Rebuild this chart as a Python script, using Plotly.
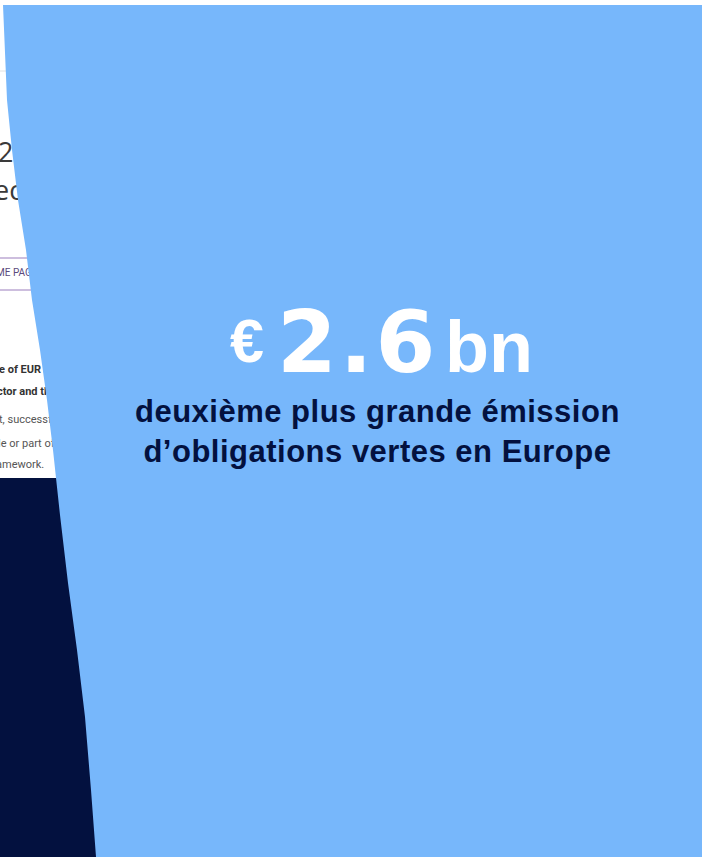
import plotly.graph_objects as go

W, H = 702, 857

# Left edge of the light-blue panel (x, y in pixels, y downward)
edge_x = [3, 7, 12, 18, 26, 32, 40, 47, 53, 60, 68, 77, 85, 91, 96]
edge_y = [5, 100, 150, 200, 250, 300, 350, 400, 450, 515, 583, 650, 717, 790, 857]

top_strip = 5        # white strip above the panel
navy_top = 478       # top of the navy block on the left

headline_pre = "€"
headline_num = "2.6"
headline_suf = "bn"
subtitle_lines = ["deuxième plus grande émission", "d’obligations vertes en Europe"]

# fragments of the web page screenshot peeking out on the left
page_big = ["2.6", "ected"]
page_big_y = [155, 193]
page_btn = "ME PAGE"
page_bold = ["e of EUR 2.6", "ctor and the"]
page_bold_y = [370, 392]
page_reg = ["t, successful", "le or part of", "amework."]
page_reg_y = [420, 444, 465]

BLUE = "#77B7FB"
NAVY = "#03113F"

fig = go.Figure()

# web page text (drawn beneath the panel shape)
fig.add_trace(go.Scatter(x=[-2, -6], y=page_big_y, mode="text", text=page_big,
                         textposition="middle right",
                         textfont=dict(family="Open Sans", size=27, color="#3a3a3a"),
                         hoverinfo="skip", showlegend=False, cliponaxis=True))
fig.add_trace(go.Scatter(x=[-4], y=[273], mode="text", text=[page_btn],
                         textposition="middle right",
                         textfont=dict(family="Roboto", size=10, color="#5b4a7c"),
                         hoverinfo="skip", showlegend=False, cliponaxis=True))
fig.add_trace(go.Scatter(x=[-1, -3], y=page_bold_y, mode="text",
                         text=["<b>%s</b>" % t for t in page_bold],
                         textposition="middle right",
                         textfont=dict(family="Roboto", size=11, color="#333333"),
                         hoverinfo="skip", showlegend=False, cliponaxis=True))
fig.add_trace(go.Scatter(x=[-1, -2, -4], y=page_reg_y, mode="text", text=page_reg,
                         textposition="middle right",
                         textfont=dict(family="Roboto", size=11, color="#555555"),
                         hoverinfo="skip", showlegend=False, cliponaxis=True))

shapes = []
shapes.append(dict(type="line", x0=0, x1=40, y0=71, y1=71,
                   line=dict(color="#e2e2e2", width=1), layer="below"))
shapes.append(dict(type="rect", x0=-5, x1=60, y0=258, y1=290,
                   line=dict(color="#bda9d4", width=1.5), fillcolor="rgba(0,0,0,0)", layer="below"))
shapes.append(dict(type="rect", x0=0, x1=120, y0=navy_top, y1=H + 2,
                   line=dict(width=0), fillcolor=NAVY, layer="below"))
path = "M %d,%d " % (edge_x[0], top_strip)
for x, y in zip(edge_x[1:], edge_y[1:]):
    path += "L %g,%g " % (x, y)
path += "L %d,%d L %d,%d L %d,%d Z" % (edge_x[-1], H + 3, W + 3, H + 3, W + 3, top_strip)
shapes.append(dict(type="path", path=path, fillcolor=BLUE, line=dict(width=0), layer="above"))
fig.update_layout(shapes=shapes)

# headline pieces
fig.add_annotation(x=266, y=341, xref="x", yref="y", text="<b>%s</b>" % headline_pre,
                   showarrow=False, xanchor="right", yanchor="middle",
                   font=dict(family="Liberation Sans", size=61, color="white"))
fig.add_annotation(x=357, y=342, xref="x", yref="y",
                   text='<b><span style="letter-spacing:3px">%s</span></b>' % headline_num,
                   showarrow=False, xanchor="center", yanchor="middle",
                   font=dict(family="DejaVu Sans", size=86, color="white"))
fig.add_annotation(x=443, y=347, xref="x", yref="y", text="<b>%s</b>" % headline_suf,
                   showarrow=False, xanchor="left", yanchor="middle",
                   font=dict(family="Liberation Sans", size=72, color="white"))

fig.add_annotation(x=377, y=431, xref="x", yref="y",
                   text='<b><span style="letter-spacing:0.5px">' + "<br>".join(subtitle_lines) + "</span></b>",
                   showarrow=False, xanchor="center", yanchor="middle",
                   font=dict(family="Liberation Sans", size=31, color=NAVY))

fig.update_xaxes(range=[0, W], visible=False, fixedrange=True)
fig.update_yaxes(range=[H, 0], visible=False, fixedrange=True)
fig.update_layout(width=W, height=H, margin=dict(l=0, r=0, t=0, b=0),
                  paper_bgcolor="white", plot_bgcolor="white", showlegend=False)

fig.write_html("out.html", config={"displayModeBar": False},
               post_script="document.body.style.margin='0px';document.body.style.overflow='hidden';")
